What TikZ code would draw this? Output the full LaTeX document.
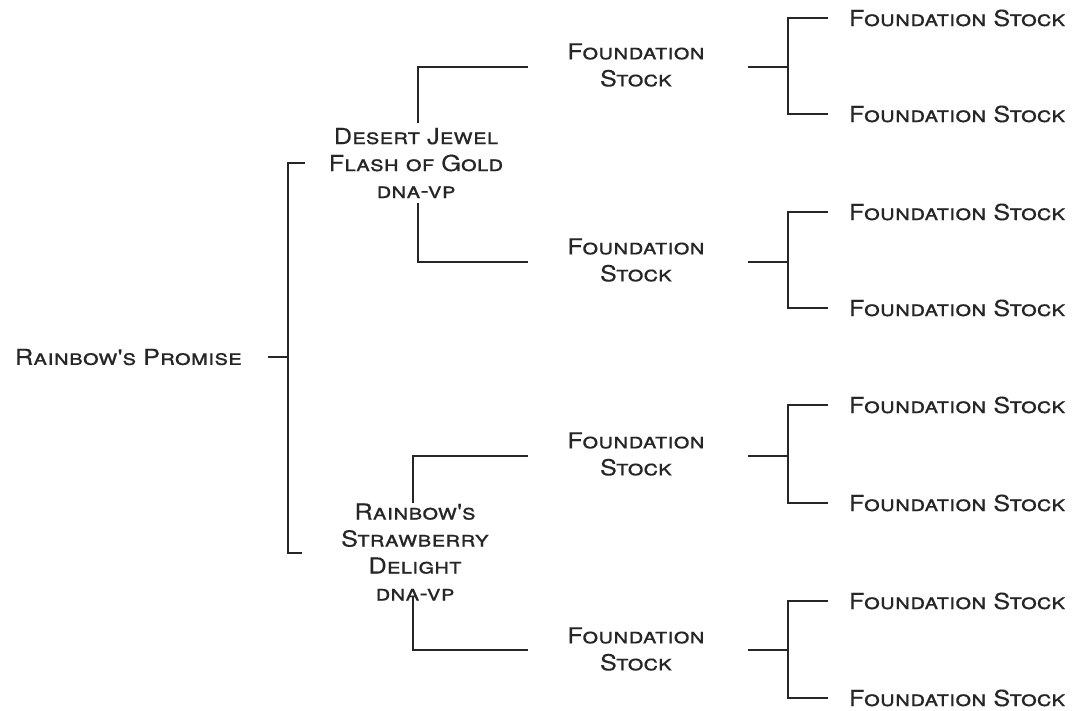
\documentclass[tikz,border=0pt]{standalone}
\usepackage{fontspec}
\newfontfamily\cpfont{TeX Gyre Heros}[Letters=SmallCaps,FakeStretch=1.15,FakeBold=0.3]
\begin{document}
\begin{tikzpicture}[x=0.75pt,y=-0.75pt,
  lbl/.style={inner sep=0pt,outer sep=0pt,font=\cpfont\fontsize{16.5}{20.25}\selectfont,text=black!85},
  conn/.style={draw=black!85,line width=1.1pt}]
\useasboundingbox (0,0) rectangle (1072,711);
% nodes
\node[lbl,anchor=west] (root) at (15,357) {Rainbow's Promise};
\node[lbl,align=center] (dj) at (416,163) {Desert Jewel\\Flash of Gold\\dna-vp};
\node[lbl,align=center] (rs) at (415,552) {Rainbow's\\Strawberry\\Delight\\dna-vp};
\node[lbl,align=center] (m1) at (636,65) {Foundation\\Stock};
\node[lbl,align=center] (m2) at (636,260) {Foundation\\Stock};
\node[lbl,align=center] (m3) at (636,454) {Foundation\\Stock};
\node[lbl,align=center] (m4) at (636,649) {Foundation\\Stock};
\foreach \i/\y in {1/18,2/114,3/212,4/308,5/405,6/503,7/601,8/698}
  \node[lbl,anchor=west] (l\i) at (849,\y) {Foundation Stock};
% junction coordinates
\coordinate (r0) at (268,357);
\coordinate (j0) at (288,357);
\coordinate (t0) at (305,163);
\coordinate (b0) at (302,553);
\coordinate (djt) at (418,123);
\coordinate (djb) at (418,203);
\coordinate (m1w) at (528,67);
\coordinate (m2w) at (528,262);
\coordinate (rst) at (413,503);
\coordinate (rsb) at (413,597);
\coordinate (m3w) at (528,456);
\coordinate (m4w) at (528,650);
\draw[conn] (r0) -- (j0);
\draw[conn] (t0) -| (j0) |- (b0);
\draw[conn] (djt) |- (m1w);
\draw[conn] (djb) |- (m2w);
\draw[conn] (rst) |- (m3w);
\draw[conn] (rsb) |- (m4w);
\foreach \m/\y/\a/\b in {1/67/1/2,2/262/3/4,3/456/5/6,4/650/7/8}{
  \coordinate (me\m) at (748,\y);
  \coordinate (mj\m) at (788,\y);
  \draw[conn] (me\m) -- (mj\m);
  \draw[conn] ([xshift=-15.75pt]l\a.west) -| (mj\m) |- ([xshift=-15.75pt]l\b.west);
}
\end{tikzpicture}
\end{document}
